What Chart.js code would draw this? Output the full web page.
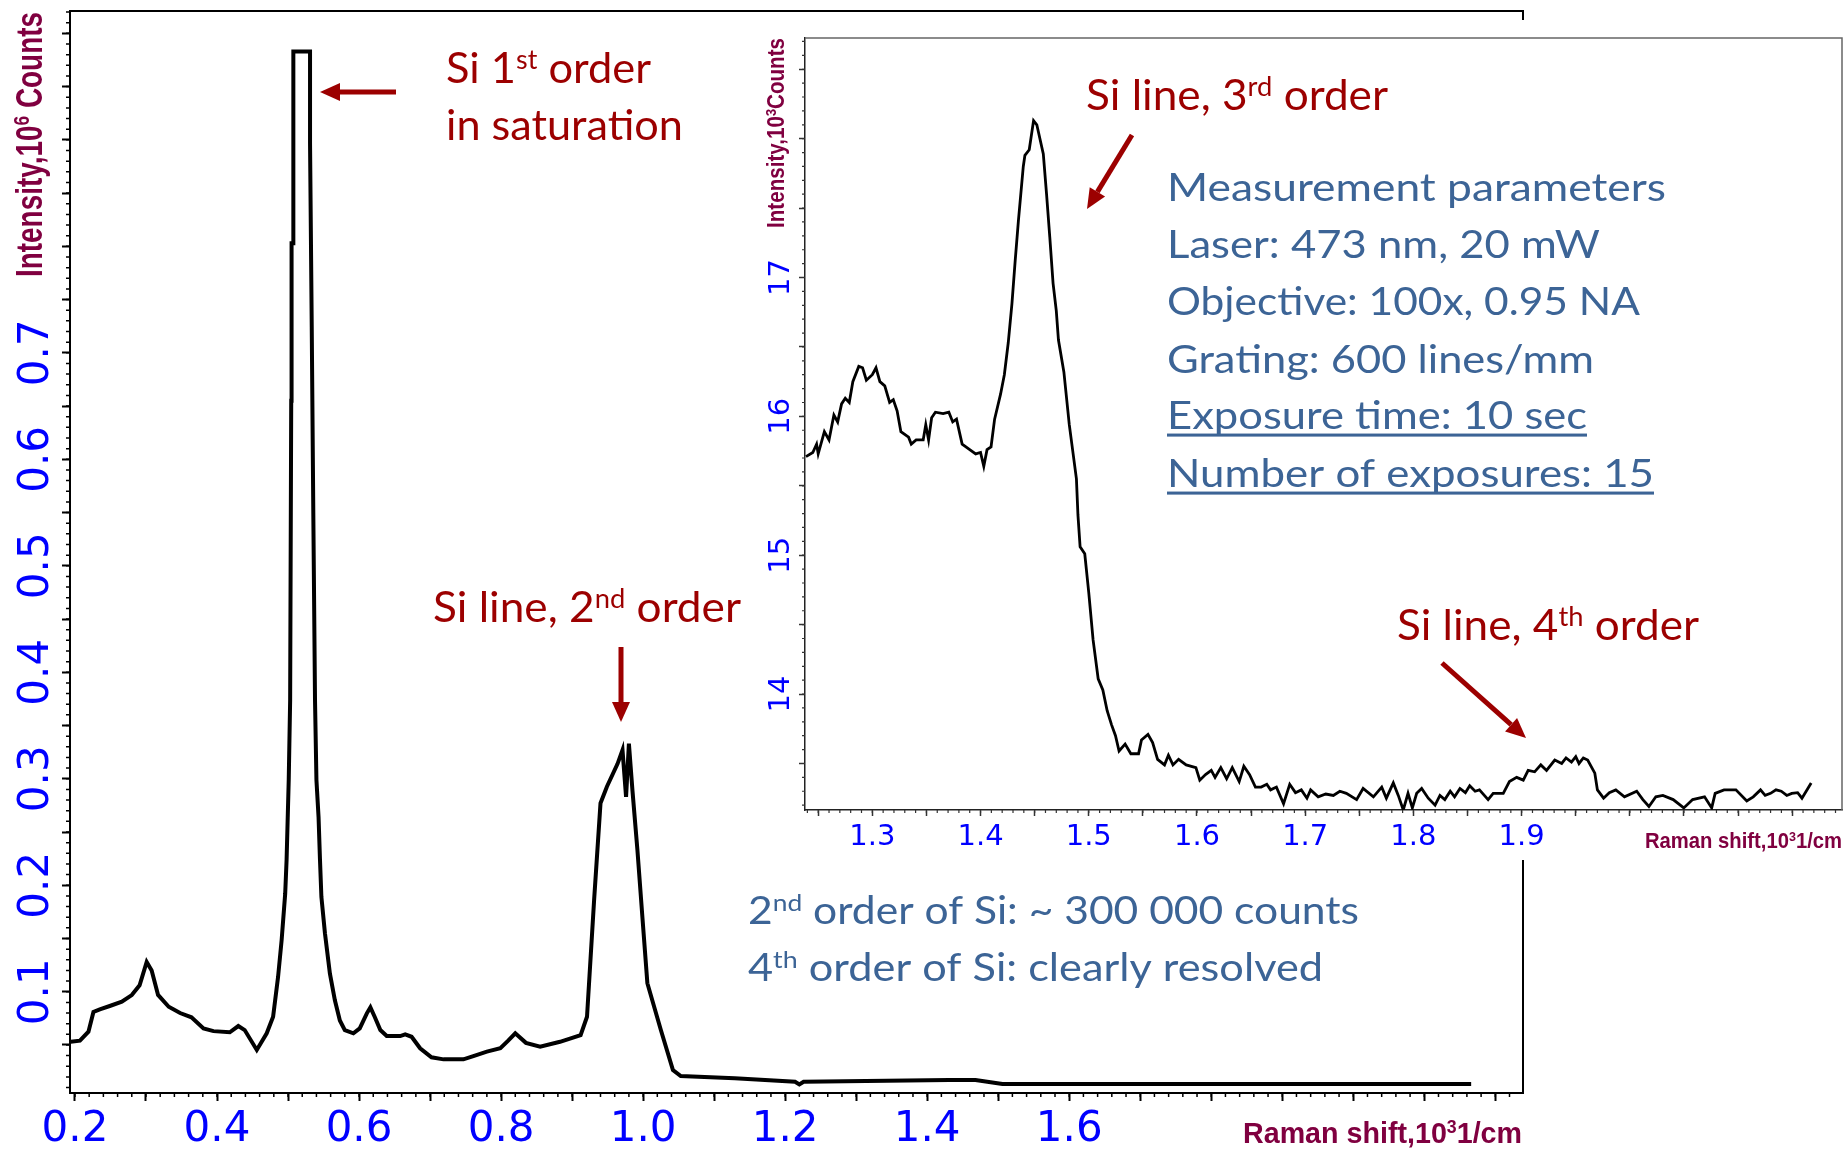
<!DOCTYPE html>
<html>
<head>
<meta charset="utf-8">
<script src="https://cdn.jsdelivr.net/npm/chart.js@4.4.0/dist/chart.umd.min.js"></script>
<style>
  html, body { margin: 0; padding: 0; background: #fff; }
  #wrap { position: relative; width: 1845px; height: 1151px; overflow: hidden; }
  #mainBox { position: absolute; left: 0; top: 0; }
  #insetBox { position: absolute; left: 750px; top: 20px; background: #fff; }
</style>
</head>
<body>
<div id="wrap">
  <div id="mainBox"><canvas id="main" width="1845" height="1151"></canvas></div>
  <div id="insetBox"><canvas id="inset" width="1095" height="840"></canvas></div>
</div>
<script>
// Full spectrum, Raman shift in 10^3 1/cm, intensity in 10^6 counts
const mainShift = [
  0.194, 0.207, 0.219, 0.226, 0.235, 0.249, 0.266, 0.280, 0.291, 0.301,
  0.308, 0.317, 0.332, 0.348, 0.364, 0.381, 0.395, 0.418, 0.430, 0.439,
  0.456, 0.470, 0.479, 0.486, 0.491, 0.496, 0.498, 0.501, 0.503, 0.5045,
  0.505, 0.5075, 0.5075, 0.531, 0.531, 0.5334, 0.5356, 0.538, 0.540, 0.543,
  0.545, 0.547, 0.552, 0.559, 0.566, 0.573, 0.580, 0.592, 0.601, 0.611,
  0.616, 0.622, 0.630, 0.639, 0.658, 0.665, 0.674, 0.686, 0.702, 0.719,
  0.747, 0.761, 0.780, 0.799, 0.810, 0.820, 0.835, 0.855, 0.883, 0.912,
  0.921, 0.931, 0.940, 0.949, 0.964, 0.971, 0.976, 0.980, 0.985, 0.992,
  0.999, 1.006, 1.025, 1.042, 1.053, 1.129, 1.214, 1.220, 1.226, 1.431,
  1.468, 1.506, 2.166
];
const mainCounts = [
  0.053, 0.054, 0.0625, 0.081, 0.0835, 0.0866, 0.0906, 0.0969, 0.106, 0.128,
  0.120, 0.097, 0.0859, 0.080, 0.076, 0.0656, 0.063, 0.0619, 0.0678, 0.064,
  0.0453, 0.061, 0.0765, 0.114, 0.1485, 0.192, 0.224, 0.299, 0.374, 0.655,
  0.803, 0.803, 0.983, 0.983, 0.897, 0.724, 0.55, 0.374, 0.299, 0.264,
  0.224, 0.189, 0.155, 0.117, 0.092, 0.073, 0.064, 0.061, 0.0656, 0.0797,
  0.0853, 0.0765, 0.064, 0.0584, 0.0584, 0.060, 0.0577, 0.0469, 0.0384, 0.0365,
  0.0365, 0.0396, 0.0437, 0.0469, 0.054, 0.061, 0.052, 0.0484, 0.053, 0.0593,
  0.0765, 0.186, 0.277, 0.2925, 0.314, 0.327, 0.283, 0.333, 0.289, 0.233,
  0.170, 0.108, 0.064, 0.0265, 0.0208, 0.0187, 0.0155, 0.013, 0.0155, 0.0171,
  0.0171, 0.0133, 0.0133
];

// Zoomed part, intensity in 10^3 counts
const insetShift = [
  1.2387, 1.245, 1.2485, 1.250, 1.2557, 1.260, 1.2645, 1.268, 1.2716, 1.275,
  1.2787, 1.282, 1.2875, 1.291, 1.2945, 1.300, 1.3034, 1.307, 1.3115, 1.316,
  1.3194, 1.3229, 1.3264, 1.3335, 1.336, 1.3405, 1.347, 1.3494, 1.352, 1.3548,
  1.3583, 1.3654, 1.3707, 1.3743, 1.3778, 1.383, 1.390, 1.3955, 1.400, 1.403,
  1.406, 1.4097, 1.413, 1.4185, 1.422, 1.4256, 1.429, 1.432, 1.435, 1.4395,
  1.441, 1.445, 1.449, 1.452, 1.458, 1.461, 1.464, 1.467, 1.470, 1.472,
  1.477, 1.482, 1.4886, 1.490, 1.492, 1.4963, 1.500, 1.504, 1.5087, 1.513,
  1.517, 1.521, 1.5247, 1.528, 1.5336, 1.5389, 1.546, 1.5487, 1.5547, 1.559,
  1.5636, 1.570, 1.5736, 1.5778, 1.583, 1.590, 1.599, 1.6026, 1.6079, 1.6132,
  1.6167, 1.622, 1.6274, 1.6326, 1.639, 1.6433, 1.6486, 1.654, 1.6593, 1.6645,
  1.668, 1.6734, 1.680, 1.6857, 1.691, 1.6964, 1.7016, 1.705, 1.712, 1.719,
  1.726, 1.732, 1.738, 1.7475, 1.7535, 1.763, 1.7707, 1.775, 1.7814, 1.786,
  1.7906, 1.795, 1.799, 1.803, 1.8076, 1.8137, 1.820, 1.8245, 1.829, 1.834,
  1.838, 1.843, 1.848, 1.852, 1.857, 1.861, 1.869, 1.8737, 1.883, 1.8887,
  1.8954, 1.9015, 1.906, 1.912, 1.9177, 1.923, 1.9306, 1.937, 1.941, 1.946,
  1.950, 1.953, 1.957, 1.961, 1.9676, 1.970, 1.9757, 1.981, 1.987, 1.995,
  2.0063, 2.012, 2.0176, 2.024, 2.0305, 2.040, 2.0498, 2.058, 2.069, 2.0756,
  2.0788, 2.087, 2.098, 2.108, 2.114, 2.1207, 2.125, 2.130, 2.135, 2.1399,
  2.145, 2.1496, 2.155, 2.159, 2.1675
];
const insetCounts = [
  15.71, 15.74, 15.80, 15.73, 15.89, 15.83, 16.01, 15.96, 16.09, 16.13,
  16.10, 16.25, 16.36, 16.35, 16.26, 16.30, 16.35, 16.25, 16.22, 16.10,
  16.12, 16.04, 15.89, 15.85, 15.80, 15.83, 15.83, 15.94, 15.83, 15.99,
  16.03, 16.02, 16.03, 15.96, 15.98, 15.80, 15.76, 15.73, 15.74, 15.64,
  15.76, 15.78, 15.98, 16.16, 16.30, 16.53, 16.81, 17.12, 17.41, 17.80,
  17.88, 17.92, 18.13, 18.10, 17.89, 17.60, 17.29, 16.96, 16.76, 16.55,
  16.32, 15.94, 15.55, 15.29, 15.06, 15.01, 14.73, 14.39, 14.11, 14.03,
  13.88, 13.78, 13.70, 13.59, 13.64, 13.57, 13.57, 13.67, 13.71, 13.65,
  13.53, 13.49, 13.56, 13.49, 13.53, 13.49, 13.47, 13.38, 13.42, 13.45,
  13.40, 13.47, 13.39, 13.47, 13.37, 13.48, 13.42, 13.33, 13.33, 13.35,
  13.31, 13.33, 13.21, 13.35, 13.29, 13.31, 13.25, 13.31, 13.26, 13.28,
  13.27, 13.30, 13.285, 13.24, 13.32, 13.26, 13.33, 13.25, 13.36, 13.27,
  13.165, 13.285, 13.18, 13.285, 13.32, 13.25, 13.20, 13.27, 13.24, 13.30,
  13.26, 13.32, 13.29, 13.34, 13.30, 13.31, 13.24, 13.285, 13.285, 13.37,
  13.40, 13.38, 13.45, 13.44, 13.49, 13.45, 13.525, 13.50, 13.54, 13.51,
  13.55, 13.50, 13.54, 13.525, 13.43, 13.31, 13.25, 13.29, 13.31, 13.26,
  13.30, 13.24, 13.19, 13.26, 13.27, 13.24, 13.18, 13.24, 13.26, 13.18,
  13.285, 13.31, 13.31, 13.23, 13.26, 13.31, 13.27, 13.285, 13.31, 13.30,
  13.27, 13.285, 13.29, 13.25, 13.36
];

const mainXTickLabels = ['0.2', '0.4', '0.6', '0.8', '1.0', '1.2', '1.4', '1.6'];
const mainYTickLabels = ['0.1', '0.2', '0.3', '0.4', '0.5', '0.6', '0.7'];
const insetXTickLabels = ['1.3', '1.4', '1.5', '1.6', '1.7', '1.8', '1.9'];
const insetYTickLabels = ['14', '15', '16', '17'];

const RED = '#9c0000';
const BLUE = '#3c6496';
const TITLE = '#800040';
const TICKBLUE = '#0000ff';

function tickList(from, to, step) {
  const out = [];
  const n = Math.round((to - from) / step);
  for (let i = 0; i <= n; i++) out.push({ value: +(from + i * step).toFixed(4) });
  return out;
}

function pickLabel(list) {
  return function (v) {
    const hit = list.find(l => Math.abs(parseFloat(l) - v) < 1e-6);
    return hit === undefined ? '' : hit;
  };
}

function fixSize(prop, size) {
  return function (scale) {
    scale[prop] = size;
    scale.paddingLeft = scale.paddingRight = scale.paddingTop = scale.paddingBottom = 0;
  };
}

function drawRuns(ctx, n, ox, oy) {
  const fam = n.family || 'Lato';
  const wt = n.weight || 'normal';
  const supSize = n.size * 0.62;
  const font = s => wt + ' ' + s + 'px ' + fam;
  let natural = 0;
  n.runs.forEach(([t, sup]) => {
    ctx.font = font(sup ? supSize : n.size);
    natural += ctx.measureText(t).width;
  });
  const k = n.w ? n.w / natural : 1;
  ctx.save();
  ctx.translate(n.x - ox, n.y - oy);
  if (n.rotate) ctx.rotate(-Math.PI / 2);
  ctx.scale(k, 1);
  ctx.fillStyle = n.color;
  ctx.textAlign = 'left';
  ctx.textBaseline = 'alphabetic';
  let cx = 0;
  n.runs.forEach(([t, sup]) => {
    ctx.font = font(sup ? supSize : n.size);
    ctx.fillText(t, cx, sup ? -n.size * 0.33 : 0);
    cx += ctx.measureText(t).width;
  });
  if (n.underline) ctx.fillRect(0, n.size * 0.12, cx, n.size * 0.08);
  ctx.restore();
}

function drawArrow(ctx, a, ox, oy) {
  const [x1, y1] = [a.from[0] - ox, a.from[1] - oy];
  const [x2, y2] = [a.to[0] - ox, a.to[1] - oy];
  const ang = Math.atan2(y2 - y1, x2 - x1);
  const head = 20, half = 9;
  const bx = x2 - head * Math.cos(ang), by = y2 - head * Math.sin(ang);
  ctx.save();
  ctx.strokeStyle = RED;
  ctx.fillStyle = RED;
  ctx.lineWidth = 5;
  ctx.beginPath();
  ctx.moveTo(x1, y1);
  ctx.lineTo(bx, by);
  ctx.stroke();
  ctx.beginPath();
  ctx.moveTo(x2, y2);
  ctx.lineTo(bx + half * Math.sin(ang), by - half * Math.cos(ang));
  ctx.lineTo(bx - half * Math.sin(ang), by + half * Math.cos(ang));
  ctx.closePath();
  ctx.fill();
  ctx.restore();
}

function minorTicks(ctx, scale, step, len, horizontal) {
  const first = Math.ceil(scale.min / step - 1e-6);
  const last = Math.floor(scale.max / step + 1e-6);
  ctx.beginPath();
  for (let k = first; k <= last; k++) {
    const p = scale.getPixelForValue(k * step);
    if (horizontal) { ctx.moveTo(p, scale.top); ctx.lineTo(p, scale.top + len); }
    else { ctx.moveTo(scale.right, p); ctx.lineTo(scale.right - len, p); }
  }
  ctx.stroke();
}

const decor = {
  id: 'decor',
  afterDraw(chart, args, o) {
    const ctx = chart.ctx;
    const area = chart.chartArea;
    ctx.save();
    ctx.strokeStyle = o.tickColor;
    ctx.lineWidth = o.minorWidth;
    minorTicks(ctx, chart.scales.x, o.xMinor, o.minorLen, true);
    minorTicks(ctx, chart.scales.y, o.yMinor, o.minorLen, false);
    // top and right side of the frame
    ctx.strokeStyle = o.frameColor;
    ctx.lineWidth = o.frameWidth;
    ctx.beginPath();
    ctx.moveTo(area.left, area.top);
    ctx.lineTo(area.right, area.top);
    ctx.lineTo(area.right, area.bottom);
    ctx.stroke();
    ctx.restore();
    const [ox, oy] = o.offset;
    o.notes.forEach(n => drawRuns(ctx, n, ox, oy));
    o.arrows.forEach(a => drawArrow(ctx, a, ox, oy));
  }
};

const mainNotes = [
  { runs: [['Si 1'], ['st', 1], [' order']], x: 446, y: 83, size: 42, color: RED, w: 205 },
  { runs: [['in saturation']], x: 446, y: 140, size: 42, color: RED, w: 237 },
  { runs: [['Si line, 2'], ['nd', 1], [' order']], x: 433, y: 622, size: 42, color: RED, w: 308 },
  { runs: [['2'], ['nd', 1], [' order of Si: ~ 300 000 counts']], x: 748, y: 924, size: 38, color: BLUE, w: 611 },
  { runs: [['4'], ['th', 1], [' order of Si: clearly resolved']], x: 748, y: 981, size: 38, color: BLUE, w: 575 },
  { runs: [['Intensity,10'], ['6', 1], [' Counts']], x: 41.5, y: 277, size: 37, color: TITLE, w: 265,
    family: '"Liberation Sans", Arial, sans-serif', weight: 'bold', rotate: true },
  { runs: [['Raman shift,10'], ['3', 1], ['1/cm']], x: 1243, y: 1143, size: 30, color: TITLE, w: 279,
    family: '"Liberation Sans", Arial, sans-serif', weight: 'bold' }
];
const mainArrows = [
  { from: [396, 92], to: [320, 92] },
  { from: [621, 647], to: [621, 722] }
];

const insetNotes = [
  { runs: [['Si line, 3'], ['rd', 1], [' order']], x: 1086, y: 110, size: 42, color: RED, w: 302 },
  { runs: [['Si line, 4'], ['th', 1], [' order']], x: 1397, y: 640, size: 42, color: RED, w: 302 },
  { runs: [['Measurement parameters']], x: 1167, y: 201, size: 38, color: BLUE, w: 499 },
  { runs: [['Laser: 473 nm, 20 mW']], x: 1167, y: 258, size: 38, color: BLUE, w: 433 },
  { runs: [['Objective: 100x, 0.95 NA']], x: 1167, y: 315, size: 38, color: BLUE, w: 473 },
  { runs: [['Grating: 600 lines/mm']], x: 1167, y: 373, size: 38, color: BLUE, w: 427 },
  { runs: [['Exposure time: 10 sec']], x: 1167, y: 429, size: 38, color: BLUE, w: 420, underline: true },
  { runs: [['Number of exposures: 15']], x: 1167, y: 487, size: 38, color: BLUE, w: 487, underline: true },
  { runs: [['Intensity,10'], ['3', 1], ['Counts']], x: 784, y: 228, size: 23, color: TITLE, w: 190,
    family: '"Liberation Sans", Arial, sans-serif', weight: 'bold', rotate: true },
  { runs: [['Raman shift,10'], ['3', 1], ['1/cm']], x: 1645, y: 848, size: 22, color: TITLE, w: 197,
    family: '"Liberation Sans", Arial, sans-serif', weight: 'bold' }
];
const insetArrows = [
  { from: [1132, 135], to: [1087, 209] },
  { from: [1442, 663], to: [1526, 738] }
];

const tickFont = size => ({ family: '"DejaVu Sans", Verdana, sans-serif', size: size });

new Chart(document.getElementById('main'), {
  type: 'line',
  data: {
    datasets: [{
      data: mainShift.map((x, i) => ({ x: x, y: mainCounts[i] })),
      borderColor: '#000', borderWidth: 4, pointRadius: 0, tension: 0, fill: false
    }]
  },
  options: {
    responsive: false, animation: false, events: [],
    layout: { padding: { left: 0, top: 11, right: 322, bottom: 0 } },
    plugins: {
      legend: { display: false }, tooltip: { enabled: false },
      decor: { xMinor: 0.02, yMinor: 0.01, minorLen: 4, minorWidth: 1.5, tickColor: '#000',
               frameColor: '#000', frameWidth: 2, offset: [0, 0], notes: mainNotes, arrows: mainArrows }
    },
    scales: {
      x: {
        type: 'linear', min: 0.193, max: 2.239,
        afterBuildTicks: s => { s.ticks = tickList(0.2, 2.2, 0.1); },
        afterFit: fixSize('height', 58),
        ticks: { callback: pickLabel(mainXTickLabels), color: TICKBLUE, font: tickFont(42),
                 autoSkip: false, maxRotation: 0, minRotation: 0, padding: 4 },
        grid: { drawOnChartArea: false, drawTicks: true, tickLength: 8, tickColor: '#000', tickWidth: 2 },
        border: { display: true, color: '#000', width: 2 }
      },
      y: {
        type: 'linear', min: 0.0049, max: 1.021,
        afterBuildTicks: s => { s.ticks = tickList(0.05, 1.0, 0.05); },
        afterFit: fixSize('width', 70),
        ticks: { callback: pickLabel(mainYTickLabels), color: TICKBLUE, font: tickFont(42),
                 autoSkip: false, minRotation: 90, maxRotation: 90, crossAlign: 'center', padding: -8 },
        grid: { drawOnChartArea: false, drawTicks: true, tickLength: 8, tickColor: '#000', tickWidth: 2 },
        border: { display: true, color: '#000', width: 2 }
      }
    }
  },
  plugins: [decor]
});

new Chart(document.getElementById('inset'), {
  type: 'line',
  data: {
    datasets: [{
      data: insetShift.map((x, i) => ({ x: x, y: insetCounts[i] })),
      borderColor: '#000', borderWidth: 2.8, pointRadius: 0, tension: 0, fill: false
    }]
  },
  options: {
    responsive: false, animation: false, events: [],
    layout: { padding: { left: 0, top: 18, right: 3, bottom: 0 } },
    plugins: {
      legend: { display: false }, tooltip: { enabled: false },
      decor: { xMinor: 0.01, yMinor: 0.1, minorLen: 3, minorWidth: 1.2, tickColor: '#333',
               frameColor: '#666', frameWidth: 1.5, offset: [750, 20], notes: insetNotes, arrows: insetArrows }
    },
    scales: {
      x: {
        type: 'linear', min: 1.2378, max: 2.196,
        afterBuildTicks: s => { s.ticks = tickList(1.25, 2.15, 0.05); },
        afterFit: fixSize('height', 50),
        ticks: { callback: pickLabel(insetXTickLabels), color: TICKBLUE, font: tickFont(29),
                 autoSkip: false, maxRotation: 0, minRotation: 0, padding: 4 },
        grid: { drawOnChartArea: false, drawTicks: true, tickLength: 6, tickColor: '#333', tickWidth: 1.5 },
        border: { display: true, color: '#222', width: 1.5 }
      },
      y: {
        type: 'linear', min: 13.165, max: 18.725,
        afterBuildTicks: s => { s.ticks = tickList(13.5, 18.5, 0.5); },
        afterFit: fixSize('width', 55),
        ticks: { callback: pickLabel(insetYTickLabels), color: TICKBLUE, font: tickFont(29),
                 autoSkip: false, minRotation: 90, maxRotation: 90, crossAlign: 'center', padding: -1 },
        grid: { drawOnChartArea: false, drawTicks: true, tickLength: 6, tickColor: '#333', tickWidth: 1.5 },
        border: { display: true, color: '#222', width: 1.5 }
      }
    }
  },
  plugins: [decor]
});
</script>
</body>
</html>
